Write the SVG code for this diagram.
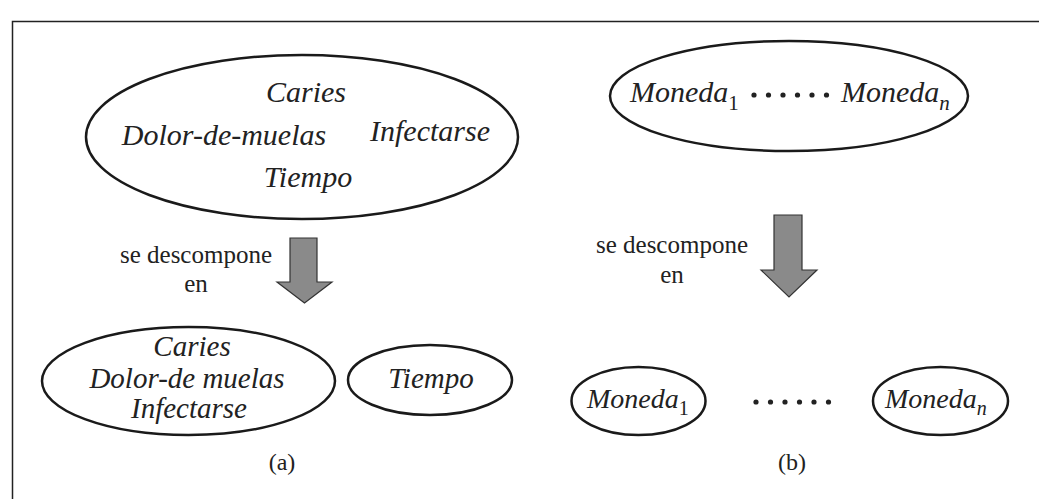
<svg xmlns="http://www.w3.org/2000/svg" width="1039" height="499" viewBox="0 0 1039 499">
<style>
text{font-family:'Liberation Serif','Times New Roman',Times,serif}
.it{font-style:italic;fill:#222}
.rm{font-style:normal;fill:#222}
.el{fill:none;stroke:#1a1a1a;stroke-width:2.5}
.arr{fill:#8a8a8a;stroke:#333;stroke-width:1.2}
.dot{fill:#222}
</style>
<rect width="1039" height="499" fill="#fff"/>
<path d="M12.5 499 V21.5 H1039" fill="none" stroke="#222" stroke-width="1.5"/>

<g id="top-a">
<ellipse class="el" cx="302" cy="137" rx="216" ry="82"/>
<text class="it" font-size="30" x="306" y="102" text-anchor="middle">Caries</text>
<text class="it" font-size="30" x="224" y="145" text-anchor="middle">Dolor-de-muelas</text>
<text class="it" font-size="30" x="430" y="141" text-anchor="middle">Infectarse</text>
<text class="it" font-size="30" x="308" y="187" text-anchor="middle">Tiempo</text>
</g>

<g id="top-b">
<ellipse class="el" cx="789" cy="96" rx="179" ry="55"/>
<text class="it" font-size="30" x="630" y="102">Moneda<tspan font-style="normal" font-size="21" dy="8">1</tspan></text>
<g class="dot"><circle cx="754" cy="95" r="2.6"/><circle cx="768.5" cy="95" r="2.6"/><circle cx="783" cy="95" r="2.6"/><circle cx="797.5" cy="95" r="2.6"/><circle cx="812" cy="95" r="2.6"/><circle cx="826.5" cy="95" r="2.6"/></g>
<text class="it" font-size="30" x="841" y="102">Moneda<tspan font-size="21" dy="8">n</tspan></text>
</g>

<g id="connectors">
<path class="arr" d="M290 238 H317 V282 H332 L304.5 303 L277 282 H290 Z"/>
<path class="arr" d="M774 215 H802 V270 H817 L789 297 L761 270 H774 Z"/>
</g>

<g id="label-a">
<text class="rm" font-size="25" x="196" y="263" text-anchor="middle">se descompone</text>
<text class="rm" font-size="25" x="196" y="292" text-anchor="middle">en</text>
</g>
<g id="label-b">
<text class="rm" font-size="25" x="672" y="253" text-anchor="middle">se descompone</text>
<text class="rm" font-size="25" x="672" y="283" text-anchor="middle">en</text>
</g>

<g id="bottom-a1">
<ellipse class="el" cx="188.5" cy="381" rx="146.5" ry="54"/>
<text class="it" font-size="29" x="192" y="356" text-anchor="middle">Caries</text>
<text class="it" font-size="29" x="187" y="388" text-anchor="middle">Dolor-de muelas</text>
<text class="it" font-size="29" x="189" y="418" text-anchor="middle">Infectarse</text>
</g>

<g id="bottom-a2">
<ellipse class="el" cx="430" cy="380" rx="82" ry="35"/>
<text class="it" font-size="29" x="431" y="388" text-anchor="middle">Tiempo</text>
</g>

<g id="bottom-b1">
<ellipse class="el" cx="638.5" cy="401" rx="67" ry="34"/>
<text class="it" font-size="28" x="587" y="408">Moneda<tspan font-style="normal" font-size="20" dy="7">1</tspan></text>
</g>

<g class="dot"><circle cx="756" cy="402" r="2.6"/><circle cx="770.5" cy="402" r="2.6"/><circle cx="785" cy="402" r="2.6"/><circle cx="799.5" cy="402" r="2.6"/><circle cx="814" cy="402" r="2.6"/><circle cx="828.5" cy="402" r="2.6"/></g>

<g id="bottom-b2">
<ellipse class="el" cx="940.5" cy="401" rx="67.5" ry="34"/>
<text class="it" font-size="28" x="885" y="408">Moneda<tspan font-size="20" dy="7">n</tspan></text>
</g>

<text class="rm" font-size="24" x="282" y="470" text-anchor="middle">(a)</text>
<text class="rm" font-size="24" x="792" y="470" text-anchor="middle">(b)</text>
</svg>
